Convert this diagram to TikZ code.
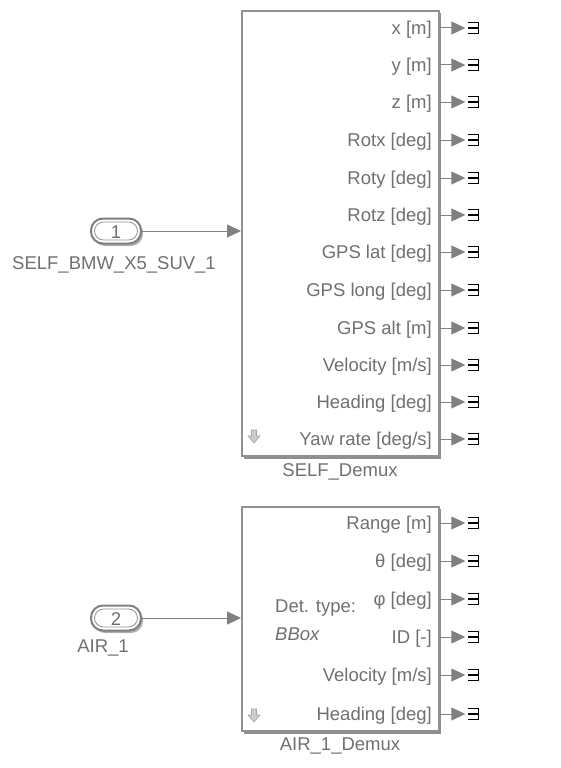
\documentclass[tikz,border=0pt]{standalone}
\usepackage{fontspec}
\setmainfont{Liberation Sans}
\usetikzlibrary{arrows.meta}
\definecolor{txtgray}{RGB}{112,112,112}
\definecolor{linegray}{RGB}{128,128,128}
\definecolor{bordergray}{RGB}{145,145,145}
\definecolor{shadowgray}{RGB}{95,95,95}
\tikzset{
  lbl/.style={text=txtgray, font=\fontsize{18.5}{22}\selectfont, inner sep=0pt},
  portlbl/.style={lbl, anchor=east},
  conn/.style={draw=linegray, line width=1pt, -{Triangle[length=14pt,width=13pt]}},
  termnode/.style={minimum width=10pt, minimum height=10pt, inner sep=0pt},
  termglyph/.style={black, line width=1.3pt},
  blockbox/.style={draw=bordergray, line width=2pt, fill=white, anchor=north west, inner sep=0pt},
  pillout/.style={draw=shadowgray!80, line width=2pt, rounded corners=12pt, fill=white, minimum width=50pt, minimum height=25pt, inner sep=0pt},
  pillin/.style={draw=bordergray, line width=0.8pt, rounded corners=9pt, minimum width=43pt, minimum height=18pt, inner sep=0pt},
  dnarrow/.style={fill=black!20, draw=black!35, line width=0.6pt},
}
\begin{document}
\begin{tikzpicture}[x=1pt,y=-1pt]
\useasboundingbox (0,0) rectangle (561,768);
% ---------- block 1 ----------
\fill[shadowgray!70] (244,13) rectangle (441,459);
\node[blockbox, minimum width=197pt, minimum height=445pt] (blk1) at (241,10) {};
\node[lbl] (blk1name) at (340,472) {SELF\_Demux};
\draw[dnarrow] (251.5,430) -- (256.5,430) -- (256.5,436) -- (260,436) -- (254,443) -- (248,436) -- (251.5,436) -- cycle;
% ---------- block 2 ----------
\fill[shadowgray!70] (244,509) rectangle (441,734);
\node[blockbox, minimum width=197pt, minimum height=224pt] (blk2) at (241,506) {};
\node[lbl] (blk2name) at (340,746) {AIR\_1\_Demux};
\draw[dnarrow] (251.5,709) -- (256.5,709) -- (256.5,715) -- (260,715) -- (254,722) -- (248,715) -- (251.5,715) -- cycle;
\node[lbl, anchor=west] (dettype) at (275,608) {Det. type:};
\node[lbl, anchor=west, font=\fontsize{18.5}{22}\selectfont\itshape] (bbox) at (275,634) {BBox};
% ---------- outputs block 1 ----------
\foreach \i/\yy/\t in {1/28/{x [m]},2/65/{y [m]},3/102/{z [m]},4/140/{Rotx [deg]},5/178/{Roty [deg]},6/215/{Rotz [deg]},7/252/{GPS lat [deg]},8/290/{GPS long [deg]},9/328/{GPS alt [m]},10/365/{Velocity [m/s]},11/402/{Heading [deg]},12/439/{Yaw rate [deg/s]}}{
  \node[portlbl] (a\i) at (432,\yy+1.5) {\t};
  \node[termnode] (ta\i) at (473.5,\yy) {};
  \draw[conn, shorten >=3pt] (blk1.east |- ta\i) -- (ta\i.west);
  \draw[termglyph] (ta\i.north west) -- (ta\i.north east) -- (ta\i.south east) -- (ta\i.south west) (ta\i.west) -- (ta\i.east);
}
% ---------- outputs block 2 ----------
\foreach \i/\yy/\t in {1/523/{Range [m]},2/561/{θ [deg]},3/599/{φ [deg]},4/637/{ID [-]},5/675/{Velocity [m/s]},6/714/{Heading [deg]}}{
  \node[portlbl] (b\i) at (432,\yy+1.5) {\t};
  \node[termnode] (tb\i) at (473.5,\yy) {};
  \draw[conn, shorten >=3pt] (blk2.east |- tb\i) -- (tb\i.west);
  \draw[termglyph] (tb\i.north west) -- (tb\i.north east) -- (tb\i.south east) -- (tb\i.south west) (tb\i.west) -- (tb\i.east);
}
% ---------- inport 1 ----------
\node[pillout, fill=shadowgray!50, draw=none] at (118,233.5) {};
\node[pillout] (in1) at (116,231) {};
\node[pillin] (in1i) at (116,231) {};
\node[lbl] (in1n) at (116,232) {1};
\node[lbl] (in1name) at (114,265) {SELF\_BMW\_X5\_SUV\_1};
\draw[conn] (in1.east) -- (blk1.west |- in1);
% ---------- inport 2 ----------
\node[pillout, fill=shadowgray!50, draw=none] at (118,620.5) {};
\node[pillout] (in2) at (116,618) {};
\node[pillin] (in2i) at (116,618) {};
\node[lbl] (in2n) at (116,619) {2};
\node[lbl] (in2name) at (103,648) {AIR\_1};
\draw[conn] (in2.east) -- (blk2.west |- in2);
\end{tikzpicture}
\end{document}
